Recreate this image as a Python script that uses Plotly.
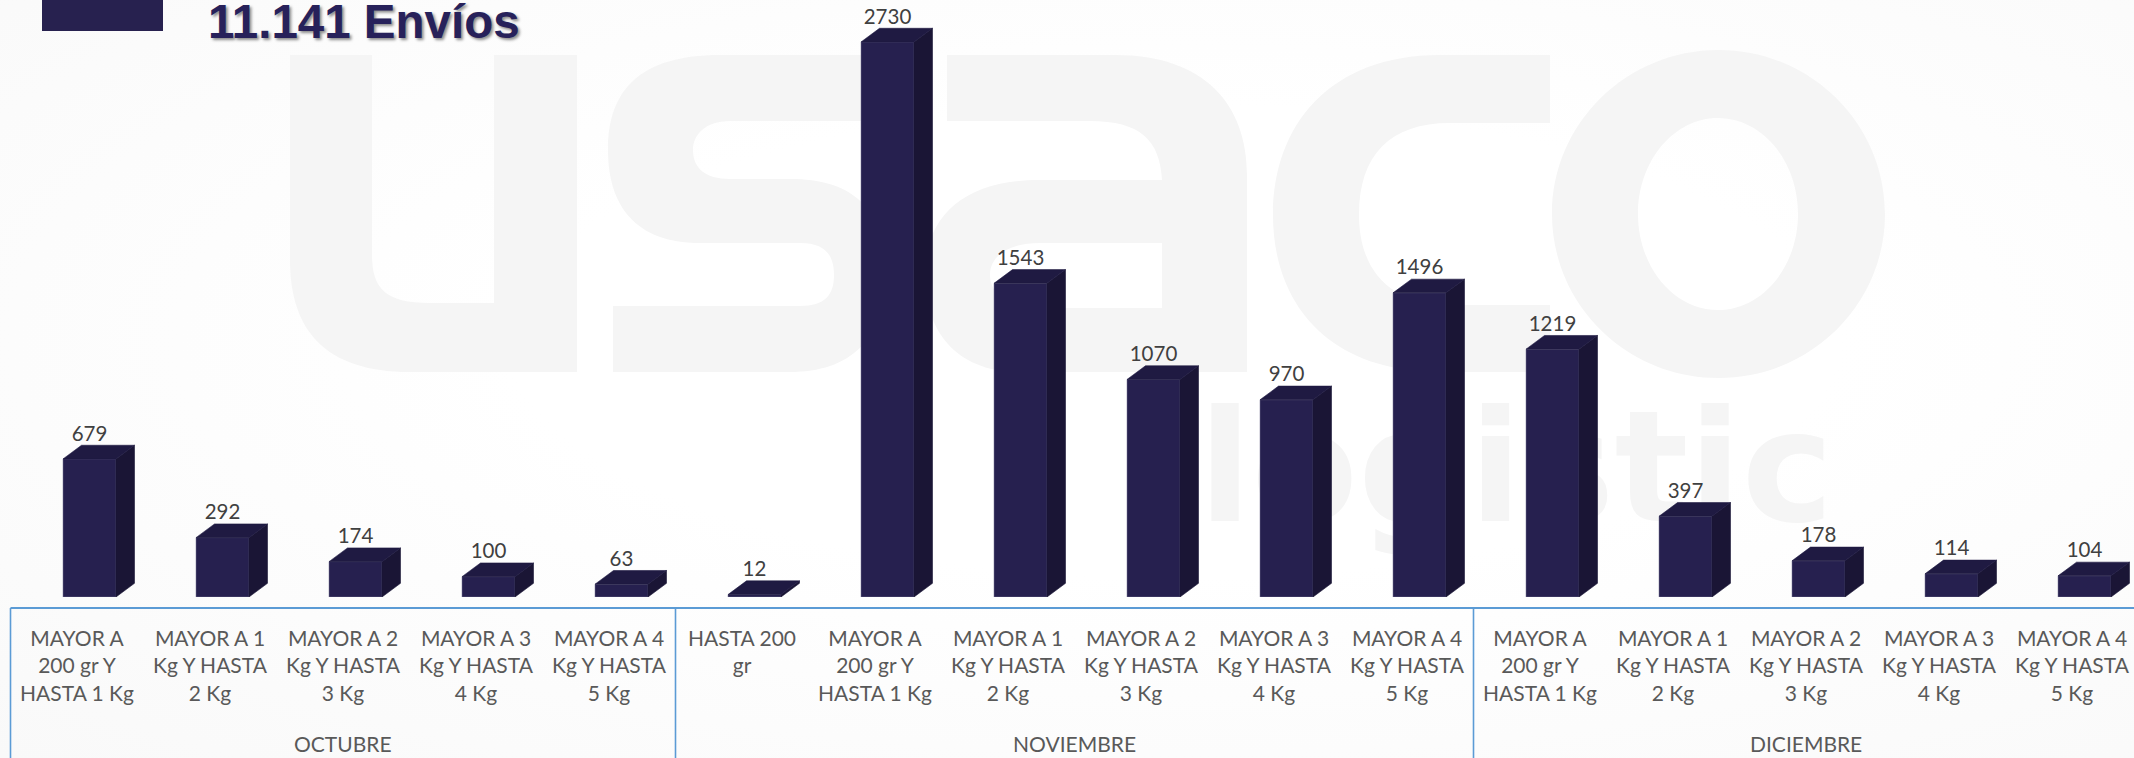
import re
import plotly.graph_objects as go

# ---- data ----
tick_labels = [
    "MAYOR A<br>200 gr Y<br>HASTA 1 Kg", "MAYOR A 1<br>Kg Y HASTA<br>2 Kg", "MAYOR A 2<br>Kg Y HASTA<br>3 Kg",
    "MAYOR A 3<br>Kg Y HASTA<br>4 Kg", "MAYOR A 4<br>Kg Y HASTA<br>5 Kg",
    "HASTA 200<br>gr", "MAYOR A<br>200 gr Y<br>HASTA 1 Kg", "MAYOR A 1<br>Kg Y HASTA<br>2 Kg",
    "MAYOR A 2<br>Kg Y HASTA<br>3 Kg", "MAYOR A 3<br>Kg Y HASTA<br>4 Kg", "MAYOR A 4<br>Kg Y HASTA<br>5 Kg",
    "MAYOR A<br>200 gr Y<br>HASTA 1 Kg", "MAYOR A 1<br>Kg Y HASTA<br>2 Kg", "MAYOR A 2<br>Kg Y HASTA<br>3 Kg",
    "MAYOR A 3<br>Kg Y HASTA<br>4 Kg", "MAYOR A 4<br>Kg Y HASTA<br>5 Kg",
]
envios = [679, 292, 174, 100, 63, 12, 2730, 1543, 1070, 970, 1496, 1219, 397, 178, 114, 104]
meses = ["OCTUBRE", "NOVIEMBRE", "DICIEMBRE"]
meses_n = [5, 6, 5]
titulo = "11.141 Envíos"

# ---- geometry of the page ----
W, H = 2134, 758
PITCH, X0 = 133.0, 77.0          # px per category, px of category 0
BASE_Y, PX_PER_UNIT = 597.0, 0.2033
AXIS_Y = 608

BAR_OFFSET = -14 / PITCH
BAR_WIDTH = 53 / PITCH
DX = 18.5 / PITCH
DY = 13.7 / PX_PER_UNIT
LABEL_DROP = 2

FRONT, TOP, SIDE = "#26204f", "#1f1a42", "#1a1535"
EDGE = "rgba(120,118,150,0.5)"
AXIS_BLUE = "#5b9bd5"
FONT = "Lato"
WM = "#f5f5f5"


def px(path):
    """pixel path -> paper-fraction path"""
    toks = re.findall(r"[MLCZ]|-?\d+\.?\d*", path)
    out, is_x = [], True
    for t in toks:
        if t in "MLCZ":
            out.append(t)
            is_x = True
        else:
            v = float(t)
            out.append(f"{v / W:.5f}" if is_x else f"{1 - v / H:.5f}")
            is_x = not is_x
    return " ".join(out)


def oval(cx, cy, rx, ry):
    k = 0.5523
    return (f"M{cx-rx} {cy} C{cx-rx} {cy-k*ry} {cx-k*rx} {cy-ry} {cx} {cy-ry} "
            f"C{cx+k*rx} {cy-ry} {cx+rx} {cy-k*ry} {cx+rx} {cy} "
            f"C{cx+rx} {cy+k*ry} {cx+k*rx} {cy+ry} {cx} {cy+ry} "
            f"C{cx-k*rx} {cy+ry} {cx-rx} {cy+k*ry} {cx-rx} {cy} Z ")


logo_paths = [
    "M290 55 L372 55 L372 255 C372 288 385 303 430 303 L494 303 L494 55 L577 55 L577 372 L410 372 C325 372 290 330 290 260 Z",
    "M720 55 L893 55 L893 121 L730 121 C705 121 693 135 693 150 C693 168 705 179 730 179 L790 179 C860 179 885 215 885 275 "
    "C885 340 850 372 790 372 L613 372 L613 306 L800 306 C825 306 834 295 834 275 C834 255 825 243 800 243 L700 243 "
    "C635 243 608 205 608 150 C608 90 640 55 720 55 Z",
    "M947 55 L1115 55 C1205 55 1247 105 1247 175 L1247 372 L1020 372 C955 372 925 330 925 275 C925 215 965 180 1040 180 "
    "L1162 180 C1160 140 1140 121 1090 121 L947 121 Z M1162 243 L1040 243 C1010 243 990 255 990 275 C990 295 1010 308 1040 308 L1162 308 Z",
    "M1550 55 L1440 55 C1330 55 1273 125 1273 215 C1273 305 1330 372 1440 372 L1550 372 L1550 305 L1450 305 "
    "C1390 305 1359 270 1359 215 C1359 155 1390 123 1450 123 L1550 123 Z",
    oval(1718.5, 214, 166.5, 164) + oval(1718, 214, 80, 96),
]

shapes = [dict(type="path", path=px(p), xref="paper", yref="paper", fillcolor=WM,
               line=dict(width=0), layer="below") for p in logo_paths]
# "logistic" watermark: real text carried by a shape label so it stays under the bars
shapes.append(dict(type="rect", xref="paper", yref="paper", x0=1146 / W, x1=1886 / W, y0=1 - 546 / H, y1=1 - 366 / H,
                   line=dict(width=0), fillcolor="rgba(0,0,0,0)", layer="below",
                   label=dict(text="logistic", textposition="middle center",
                              font=dict(family="DejaVu Sans", size=155, color=WM, weight="bold"))))

# header block
shapes.append(dict(type="rect", xref="paper", yref="paper", x0=42 / W, x1=163 / W, y0=1 - 31 / H, y1=1,
                   fillcolor="#27214f", line=dict(width=0), layer="above"))

# axis box: built from the category boundaries
shapes.append(dict(type="line", xref="paper", yref="paper", x0=(X0 - PITCH / 2) / W, x1=1, y0=1 - AXIS_Y / H, y1=1 - AXIS_Y / H,
                   line=dict(color=AXIS_BLUE, width=2.2), layer="above"))
start = -0.5
annotations = []
for mes, n in zip(meses, meses_n):
    shapes.append(dict(type="line", xref="x", yref="paper", x0=start, x1=start, y0=0, y1=1 - AXIS_Y / H,
                       line=dict(color=AXIS_BLUE, width=1.6), layer="above"))
    annotations.append(dict(text=mes, xref="x", yref="paper", x=start + n / 2, y=1 - 743 / H, showarrow=False,
                            xanchor="center", yanchor="middle", font=dict(family=FONT, size=21, color="#595959")))
    start += n

annotations.append(dict(text=titulo, xref="paper", yref="paper", x=206 / W, y=1 - 21 / H, showarrow=False,
                        xanchor="left", yanchor="middle",
                        font=dict(family="Liberation Sans", size=47.5, color="#27215a", weight="bold",
                                  shadow="2px 2px 3px rgba(0,0,0,0.45)")))

xs = list(range(len(envios)))

top_x, top_y, side_x, side_y = [], [], [], []
for i, v in zip(xs, envios):
    L = i + BAR_OFFSET
    R = L + BAR_WIDTH
    top_x += [L, L + DX, R + DX, R, L, None]
    top_y += [v, v + DY, v + DY, v, v, None]
    side_x += [R, R + DX, R + DX, R, R, None]
    side_y += [0, DY, v + DY, v, 0, None]

fig = go.Figure()
fig.add_trace(go.Bar(x=xs, y=envios, width=BAR_WIDTH, offset=BAR_OFFSET, marker=dict(color=FRONT, line=dict(color=EDGE, width=1)),
                     hoverinfo="skip", cliponaxis=False))
fig.add_trace(go.Scatter(x=side_x, y=side_y, mode="lines", fill="toself", fillcolor=SIDE,
                         line=dict(color=SIDE, width=0.6), hoverinfo="skip", cliponaxis=False))
fig.add_trace(go.Scatter(x=top_x, y=top_y, mode="lines", fill="toself", fillcolor=TOP,
                         line=dict(color=TOP, width=0.6), hoverinfo="skip", cliponaxis=False))
fig.add_trace(go.Scatter(x=[i + BAR_OFFSET + BAR_WIDTH / 2 for i in xs], y=[v + DY - LABEL_DROP for v in envios], mode="text",
                         text=[str(v) for v in envios], textposition="top center",
                         textfont=dict(family=FONT, size=20.5, color="#404040"), hoverinfo="skip", cliponaxis=False))

fig.update_layout(
    width=W, height=H, autosize=False, showlegend=False,
    margin=dict(l=0, r=0, t=0, b=0),
    paper_bgcolor="rgba(0,0,0,0)", plot_bgcolor="rgba(0,0,0,0)",
    shapes=shapes, annotations=annotations,
    xaxis=dict(range=[-X0 / PITCH, (W - X0) / PITCH], tickmode="array", tickvals=xs, ticktext=tick_labels,
               showgrid=False, zeroline=False, showline=False, ticks="", ticklabelstandoff=27,
               tickangle=0, tickfont=dict(family=FONT, size=21, color="#595959"), fixedrange=True),
    yaxis=dict(domain=[1 - BASE_Y / H, 1], range=[0, BASE_Y / PX_PER_UNIT], visible=False, fixedrange=True),
)

fig.write_html(
    "out.html",
    config={"displayModeBar": False},
    post_script=("document.body.style.margin='0';document.body.style.overflow='hidden';"
                 "document.documentElement.style.height='100%';document.body.style.height='100%';"
                 "document.body.style.background='radial-gradient(ellipse at 55% 45%, #ffffff 40%, #f9f9f9 100%)';"),
)
